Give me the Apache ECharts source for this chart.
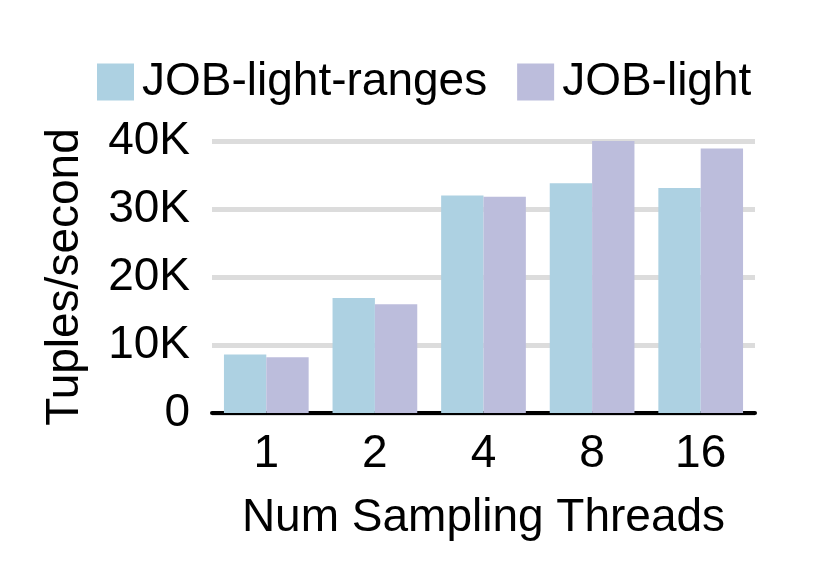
<!DOCTYPE html>
<html><head><meta charset="utf-8">
<script src="https://cdn.jsdelivr.net/npm/echarts@6/dist/echarts.min.js"></script>
<style>html,body{margin:0;padding:0;background:#fff}#c{width:828px;height:581px}</style>
</head><body><div id="c"></div>
<script>
const categories = ['1', '2', '4', '8', '16'];
const seriesNames = ['JOB-light-ranges', 'JOB-light'];
const jobLightRanges = [8600, 16900, 32000, 33800, 33100];
const jobLight = [8200, 16000, 31800, 40000, 38900];
const yTickLabels = ['0', '10K', '20K', '30K', '40K'];
const colors = ['#add1e2', '#bcbddc'];
const font = '"Liberation Sans", Arial, sans-serif';

const chart = echarts.init(document.getElementById('c'));
chart.setOption({
  animation: false,
  textStyle: { fontFamily: font },
  legend: {
    left: 92, top: 54,
    itemWidth: 37, itemHeight: 37, itemGap: 30,
    icon: 'rect',
    textStyle: { fontFamily: font, fontSize: 46, color: '#000', padding: [0, 0, 0, 3] },
    data: seriesNames
  },
  grid: { left: 212, right: 73, top: 141, bottom: 168 },
  xAxis: {
    type: 'category', data: categories,
    name: 'Num Sampling Threads', nameLocation: 'middle', nameGap: 82,
    nameTextStyle: { fontFamily: font, fontSize: 46, color: '#000' },
    axisLine: { lineStyle: { color: '#000', width: 4 } },
    axisTick: { show: false },
    axisLabel: { fontFamily: font, fontSize: 46, color: '#000', margin: 18 }
  },
  yAxis: {
    type: 'value', min: 0, max: 40000, interval: 10000,
    name: 'Tuples/second', nameLocation: 'middle', nameGap: 124,
    nameTextStyle: { fontFamily: font, fontSize: 46, color: '#000' },
    axisLine: { show: false }, axisTick: { show: false },
    splitLine: { lineStyle: { color: '#dcdcdc', width: 5 } },
    axisLabel: { fontFamily: font, fontSize: 46, color: '#000', margin: 22,
      formatter: (v) => yTickLabels[Math.round(v / 10000)] }
  },
  series: [
    { name: seriesNames[0], type: 'bar', data: jobLightRanges, barGap: '0%', barCategoryGap: '22%', itemStyle: { color: colors[0] } },
    { name: seriesNames[1], type: 'bar', data: jobLight, barGap: '0%', barCategoryGap: '22%', itemStyle: { color: colors[1] } }
  ]
});
</script></body></html>
